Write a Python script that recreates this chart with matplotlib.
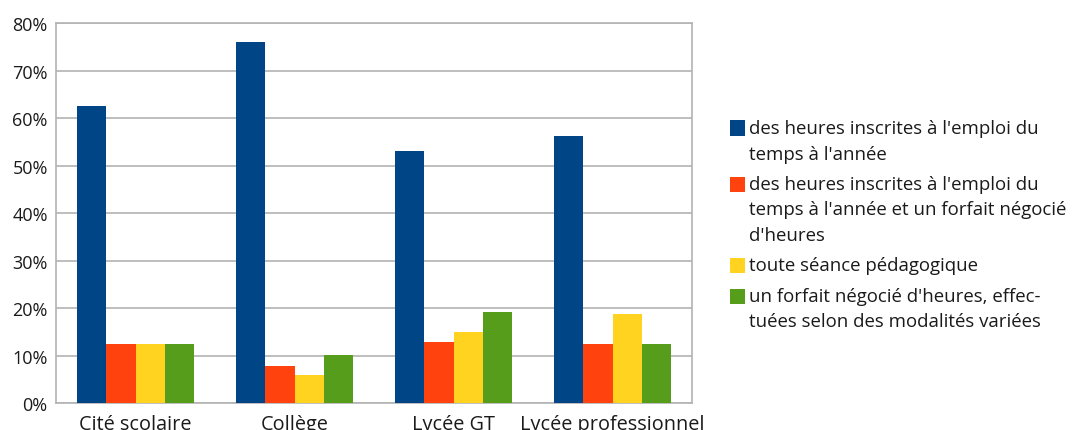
import matplotlib
matplotlib.use("Agg")
import matplotlib.pyplot as plt
import numpy as np
from matplotlib.patches import Rectangle
from matplotlib.ticker import PercentFormatter

plt.rcParams["font.family"] = ["Open Sans", "DejaVu Sans"]

categories = ["Cité scolaire", "Collège", "Lycée GT", "Lycée professionnel"]
series_labels = [
    "des heures inscrites à l'emploi du\ntemps à l'année",
    "des heures inscrites à l'emploi du\ntemps à l'année et un forfait négocié\nd'heures",
    "toute séance pédagogique",
    "un forfait négocié d'heures, effec-\ntuées selon des modalités variées",
]
heures_annee = [62.5, 76.0, 53.1, 56.3]
heures_et_forfait = [12.5, 7.7, 12.8, 12.5]
toute_seance = [12.5, 5.9, 14.9, 18.8]
forfait_negocie = [12.5, 10.1, 19.1, 12.5]

series = [heures_annee, heures_et_forfait, toute_seance, forfait_negocie]
colors = ["#004586", "#ff420e", "#ffd320", "#579d1c"]
text_color = "#1a1a1a"

W, H = 1080, 431
fig = plt.figure(figsize=(W / 100, H / 100), dpi=100)
ax = fig.add_axes([0.0519, 0.0626, 0.5889, 0.8817])

x = np.arange(len(categories))
width = 0.183
for i, (vals, col) in enumerate(zip(series, colors)):
    ax.bar(x + (i - 1.5) * width, vals, width, color=col, zorder=3)

ax.set_xlim(-0.5, len(categories) - 0.5)
ax.set_ylim(0, 80)
ax.set_yticks(np.arange(0, 81, 10))
ax.yaxis.set_major_formatter(PercentFormatter(decimals=0))
ax.set_xticks(x)
ax.set_xticklabels(categories)
ax.grid(axis="y", color="#b3b3b3", linewidth=1.2, zorder=0)
for side in ax.spines.values():
    side.set_color("#b3b3b3")
    side.set_linewidth(1.2)
ax.tick_params(axis="both", length=0, colors=text_color)
ax.tick_params(axis="y", pad=6, labelsize=13)
ax.tick_params(axis="x", pad=8, labelsize=14.3)

# legend drawn by hand so each square sits on the first line of its entry
line_step = 25.5   # px between wrapped lines
entry_gap = 5      # extra px between entries
y = 129
for label, col in zip(series_labels, colors):
    fig.patches.append(Rectangle(
        (730 / W, 1 - (y + 7.5) / H), 15 / W, 15 / H,
        transform=fig.transFigure, facecolor=col, edgecolor="none"))
    for line in label.split("\n"):
        fig.text(749 / W, 1 - y / H, line, va="center", ha="left",
                 fontsize=13.4, color=text_color)
        y += line_step
    y += entry_gap

fig.savefig("out.png", dpi=100)
